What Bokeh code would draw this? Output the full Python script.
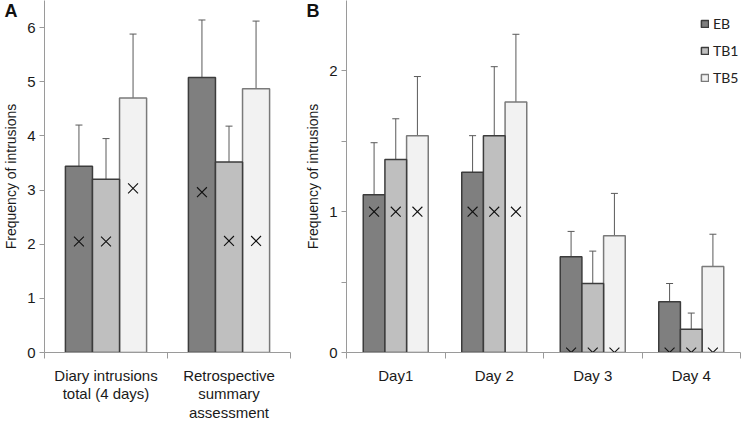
from bokeh.plotting import figure
from bokeh.layouts import row
from bokeh.models import (FixedTicker, Whisker, TeeHead, ColumnDataSource, Legend,
                          LegendItem, Range1d, LinearAxis)
from bokeh.embed import file_html
from bokeh.resources import INLINE

# ---------------- data ----------------
groups_a = ["Diary intrusions\ntotal (4 days)", "Retrospective\nsummary\nassessment"]
eb_a = [3.44, 5.08]
eb_a_lo = [2.70, 4.02]
eb_a_hi = [4.20, 6.14]
eb_a_med = [2.05, 2.96]
tb1_a = [3.20, 3.52]
tb1_a_lo = [2.46, 2.86]
tb1_a_hi = [3.95, 4.18]
tb1_a_med = [2.05, 2.06]
tb5_a = [4.70, 4.87]
tb5_a_lo = [3.53, 3.63]
tb5_a_hi = [5.88, 6.12]
tb5_a_med = [3.03, 2.06]

days_b = ["Day1", "Day 2", "Day 3", "Day 4"]
eb_b = [1.12, 1.28, 0.68, 0.36]
eb_b_lo = [0.74, 1.00, 0.49, 0.22]
eb_b_hi = [1.49, 1.54, 0.86, 0.49]
eb_b_med = [1, 1, 0, 0]
tb1_b = [1.37, 1.54, 0.49, 0.165]
tb1_b_lo = [1.08, 1.05, 0.28, 0.045]
tb1_b_hi = [1.66, 2.03, 0.72, 0.28]
tb1_b_med = [1, 1, 0, 0]
tb5_b = [1.54, 1.78, 0.83, 0.61]
tb5_b_lo = [1.13, 1.30, 0.52, 0.37]
tb5_b_hi = [1.96, 2.26, 1.13, 0.84]
tb5_b_med = [1, 1, 0, 0]

series_names = ["EB", "TB1", "TB5"]
yticks_a = [0, 1, 2, 3, 4, 5, 6]
yticks_b = [0, 1, 2]
yminor_b = [0.5, 1.5]
ymax_a = 6.5
ymax_b = 2.5

# ---------------- styles ----------------
FILLS = {"EB": "#7f7f7f", "TB1": "#bfbfbf", "TB5": "#f2f2f2"}
LINES = {"EB": "#3c3c3c", "TB1": "#3c3c3c", "TB5": "#7a7a7a"}
OFFS = {"EB": -0.22, "TB1": 0.0, "TB5": 0.22}
BW = 0.22
FONT = "Liberation Sans"
AXCOL = "#9a9a9a"
FH = 352


def style_axes(p, labels, yticks, yminor, ymax, letter):
    n = len(labels)
    xa = p.xaxis[0]
    xa.ticker = FixedTicker(ticks=[i + 0.5 for i in range(n)],
                            minor_ticks=list(range(n + 1)))
    xa.major_label_overrides = {i + 0.5: lab for i, lab in enumerate(labels)}
    xa.major_tick_out = 0
    xa.major_tick_in = 0
    xa.minor_tick_out = 6
    xa.minor_tick_in = 0
    xa.minor_tick_line_color = AXCOL
    xa.axis_line_color = AXCOL
    xa.major_label_text_font = FONT
    xa.major_label_text_font_size = "15px"
    xa.major_label_text_line_height = 1.1
    xa.major_label_text_color = "#1a1a1a"
    xa.major_label_standoff = 8
    xa.axis_label = None

    ya = LinearAxis(ticker=FixedTicker(ticks=yticks, minor_ticks=yminor),
                    major_tick_out=5, major_tick_in=0, minor_tick_out=5, minor_tick_in=0,
                    major_tick_line_color=AXCOL, minor_tick_line_color=AXCOL,
                    axis_line_color=AXCOL, major_label_text_font=FONT,
                    major_label_text_font_size="15px", major_label_text_color="#1a1a1a",
                    major_label_standoff=4, axis_label="Frequency of intrusions",
                    axis_label_text_font=FONT, axis_label_text_font_size="14px",
                    axis_label_text_font_style="normal", axis_label_text_color="#1a1a1a",
                    axis_label_standoff=5)
    p.add_layout(ya, "left")

    # panel letter, drawn as the single tick label of an outer, invisible axis
    ly = round(ymax * (1 - 10.0 / FH), 3)
    la = LinearAxis(ticker=FixedTicker(ticks=[ly], minor_ticks=[]),
                    major_label_overrides={ly: letter},
                    axis_line_color=None, major_tick_line_color=None,
                    minor_tick_line_color=None, major_tick_out=0, major_tick_in=0,
                    minor_tick_out=0, minor_tick_in=0, major_label_standoff=-17,
                    major_label_text_font=FONT, major_label_text_font_size="18px",
                    major_label_text_font_style="bold", major_label_text_color="#111111",
                    axis_label=None)
    p.add_layout(la, "left")

    p.xgrid.visible = False
    p.ygrid.visible = False
    p.outline_line_color = None


def draw(p, n, data):
    renderers = {}
    for name in ["EB", "TB5", "TB1"]:
        vals, lo, hi, med = data[name]
        xs = [i + 0.5 + OFFS[name] for i in range(n)]
        src = ColumnDataSource(dict(x=xs, top=vals, lo=lo, hi=hi, med=med))
        r = p.vbar(x="x", top="top", width=BW, bottom=0, source=src,
                   fill_color=FILLS[name], line_color=LINES[name], line_width=1.5)
        renderers[name] = r
        src2 = ColumnDataSource(dict(x=xs, lo=lo, hi=hi))
        w = Whisker(base="x", upper="hi", lower="lo", source=src2,
                    line_color="#5a5a5a", line_width=1,
                    upper_head=TeeHead(size=7, line_color="#5a5a5a", line_width=1),
                    lower_head=TeeHead(size=7, line_color="#5a5a5a", line_width=1))
        p.add_layout(w)
    for name in ["EB", "TB1", "TB5"]:
        vals, lo, hi, med = data[name]
        xs = [i + 0.5 + OFFS[name] for i in range(n)]
        p.scatter(x=xs, y=med, marker="x", size=14, line_color="#111111", line_width=1.1)
    return renderers


# ---------------- panel A ----------------
pA = figure(frame_width=246, frame_height=FH, output_backend="svg", toolbar_location=None,
            x_range=Range1d(0, 2), y_range=Range1d(0, ymax_a), y_axis_location=None,
            min_border_left=36, min_border_right=12, min_border_top=0, min_border_bottom=58)
style_axes(pA, groups_a, yticks_a, [], ymax_a, "A")
draw(pA, 2, {"EB": (eb_a, eb_a_lo, eb_a_hi, eb_a_med),
             "TB1": (tb1_a, tb1_a_lo, tb1_a_hi, tb1_a_med),
             "TB5": (tb5_a, tb5_a_lo, tb5_a_hi, tb5_a_med)})

# ---------------- panel B ----------------
pB = figure(frame_width=394, frame_height=FH, output_backend="svg", toolbar_location=None,
            x_range=Range1d(0, 4), y_range=Range1d(0, ymax_b), y_axis_location=None,
            min_border_left=36, min_border_right=2, min_border_top=0, min_border_bottom=58)
style_axes(pB, days_b, yticks_b, yminor_b, ymax_b, "B")
rB = draw(pB, 4, {"EB": (eb_b, eb_b_lo, eb_b_hi, eb_b_med),
                  "TB1": (tb1_b, tb1_b_lo, tb1_b_hi, tb1_b_med),
                  "TB5": (tb5_b, tb5_b_lo, tb5_b_hi, tb5_b_med)})

legend = Legend(items=[LegendItem(label=n, renderers=[rB[n]]) for n in series_names],
                location=(352, FH - 11 - 78), glyph_width=9, glyph_height=9,
                label_text_font="Lato", label_text_font_size="14px",
                label_text_color="#222222", spacing=7, padding=2, margin=0,
                label_height=20, border_line_alpha=0, background_fill_alpha=0,
                label_standoff=4)
pB.add_layout(legend)

layout = row(pA, pB, spacing=0)
open("out.html", "w").write(file_html(layout, INLINE))
